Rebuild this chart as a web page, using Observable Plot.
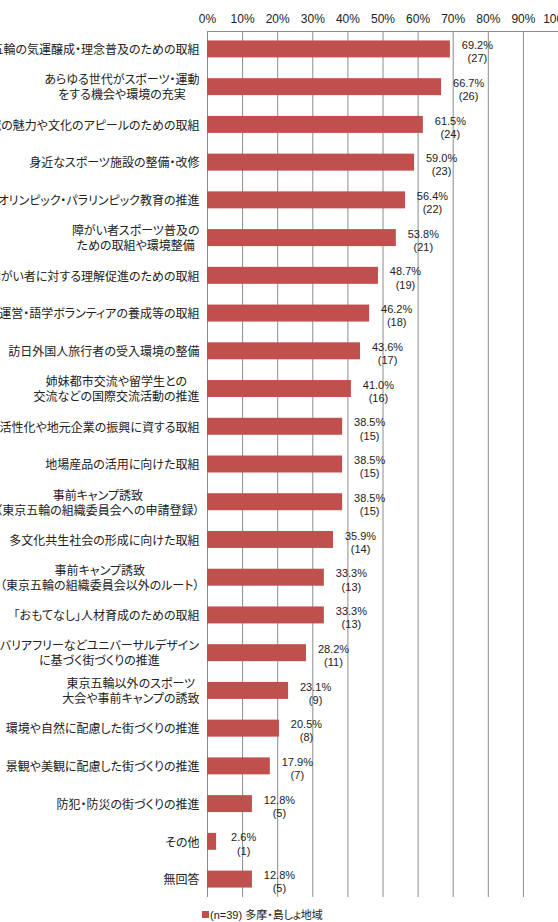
<!DOCTYPE html>
<html>
<head>
<meta charset="utf-8">
<script src="https://cdn.jsdelivr.net/npm/d3@7"></script>
<script src="https://cdn.jsdelivr.net/npm/@observablehq/plot@0.6"></script>
<style>
  body { margin: 0; background: #fff; }
  #chart { position: relative; width: 558px; height: 922px; overflow: hidden; background: #fff; }
  #chart svg g[aria-label="y-axis tick label"] { font-feature-settings: "palt"; }
  #legend {
    position: absolute; left: 202px; top: 906px;
    font: 11px "Liberation Sans", "Noto Sans CJK JP", sans-serif; color: #222;
    font-feature-settings: "palt";
    display: flex; align-items: center; white-space: nowrap;
  }
  #legend .sw { display: inline-block; width: 7px; height: 7px; background: #C0504D; margin-right: 1px; }
</style>
</head>
<body>
<div id="chart"><div id="legend"><span class="sw"></span><span id="legend-text"></span></div></div>
<script>
// Survey items (multi-line labels use "\n")
const categories = [
  "東京五輪の気運醸成・理念普及のための取組",
  "あらゆる世代がスポーツ・運動\nをする機会や環境の充実",
  "地域の魅力や文化のアピールのための取組",
  "身近なスポーツ施設の整備・改修",
  "オリンピック・パラリンピック教育の推進",
  "障がい者スポーツ普及の\nための取組や環境整備",
  "障がい者に対する理解促進のための取組",
  "大会運営・語学ボランティアの養成等の取組",
  "訪日外国人旅行者の受入環境の整備",
  "姉妹都市交流や留学生との\n交流などの国際交流活動の推進",
  "地域の活性化や地元企業の振興に資する取組",
  "地場産品の活用に向けた取組",
  "事前キャンプ誘致\n（東京五輪の組織委員会への申請登録）",
  "多文化共生社会の形成に向けた取組",
  "事前キャンプ誘致\n（東京五輪の組織委員会以外のルート）",
  "「おもてなし」人材育成のための取組",
  "バリアフリーなどユニバーサルデザイン\nに基づく街づくりの推進",
  "東京五輪以外のスポーツ\n大会や事前キャンプの誘致",
  "環境や自然に配慮した街づくりの推進",
  "景観や美観に配慮した街づくりの推進",
  "防犯・防災の街づくりの推進",
  "その他",
  "無回答"
];

// Share of respondents (%) and respondent counts
const percents = [69.2, 66.7, 61.5, 59.0, 56.4, 53.8, 48.7, 46.2, 43.6, 41.0, 38.5, 38.5, 38.5, 35.9, 33.3, 33.3, 28.2, 23.1, 20.5, 17.9, 12.8, 2.6, 12.8];
const counts   = [27, 26, 24, 23, 22, 21, 19, 18, 17, 16, 15, 15, 15, 14, 13, 13, 11, 9, 8, 7, 5, 1, 5];

const xTicks = [0, 10, 20, 30, 40, 50, 60, 70, 80, 90, 100];
const seriesName = "(n=39) 多摩・島しょ地域";

const data = categories.map((cat, i) => ({cat, pct: percents[i], n: counts[i]}));

const gridColor = "#8c8c8c";

const chart = Plot.plot({
  width: 558,
  height: 900,
  marginLeft: 207,
  marginRight: 0,
  marginTop: 31,
  marginBottom: 3,
  style: {
    fontFamily: '"Liberation Sans", "Noto Sans CJK JP", sans-serif',
    fontSize: "12px",
    color: "#222",
    background: "white"
  },
  x: {domain: [0, 100], axis: null},
  y: {domain: categories, paddingInner: 0.55, paddingOuter: 0.25, round: false, axis: null},
  marks: [
    Plot.gridX(xTicks, {stroke: gridColor, strokeOpacity: 1}),
    Plot.frame({anchor: "top", stroke: gridColor}),
    Plot.ruleX([0], {stroke: gridColor}),
    Plot.barX(data, {x: "pct", y: "cat", fill: "#C0504D"}),
    Plot.text(data, {
      x: "pct", y: "cat",
      text: d => `${d.pct.toFixed(1)}%\n(${d.n})`,
      dx: 27, dy: 2, fontSize: 11, lineHeight: 1.2, fill: "#222"
    }),
    Plot.axisX(xTicks, {
      anchor: "top", label: null, tickSize: 0, tickPadding: 9,
      tickFormat: d => d + "%", fontSize: 12
    }),
    Plot.axisY({
      label: null, tickSize: 0, tickPadding: 8, fontSize: 12, lineHeight: 1.25,
      fontFamily: '"Noto Sans CJK JP", sans-serif', fill: "#222"
    })
  ]
});

const host = document.getElementById("chart");
host.insertBefore(chart, host.firstChild);
document.getElementById("legend-text").textContent = seriesName;

// Two-line category labels: center the lines on each other, keep the block right-aligned
d3.select(chart).selectAll('g[aria-label="y-axis tick label"] text').each(function () {
  const tspans = this.querySelectorAll("tspan");
  if (tspans.length > 1) {
    const w = this.getBBox().width;
    this.setAttribute("text-anchor", "middle");
    tspans.forEach(t => t.setAttribute("x", -w / 2));
  }
});
</script>
</body>
</html>
